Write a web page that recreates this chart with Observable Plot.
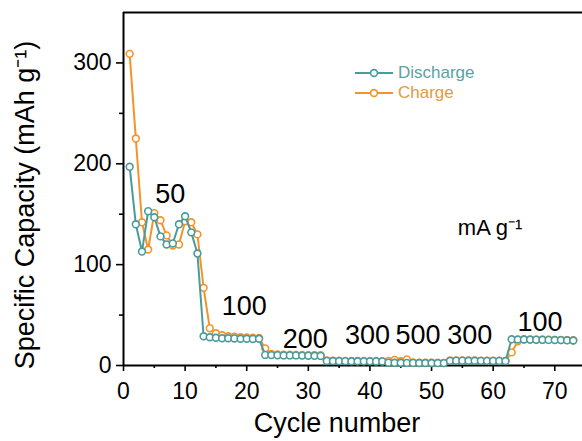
<!DOCTYPE html>
<html>
<head>
<meta charset="utf-8">
<script src="https://cdn.jsdelivr.net/npm/d3@7"></script>
<script src="https://cdn.jsdelivr.net/npm/@observablehq/plot@0.6"></script>
<style>
  html, body { margin: 0; padding: 0; background: #fff; }
  #wrap { position: relative; width: 582px; height: 441px; font-family: "Liberation Sans", Arial, sans-serif; }
  #legend { position: absolute; left: 354px; top: 63px; font-size: 17px; line-height: 20px; }
  #legend .row { display: flex; align-items: center; height: 20px; }
  #legend svg { margin-right: 4px; }
</style>
</head>
<body>
<div id="wrap"></div>
<script>
const cycles = d3.range(1, 74);
const discharge = [197,140,113,153,147,128,120,121,140,148,132,111,
  29,28,27.5,27,27,26.8,26.5,26.5,26.3,26.5,
  10.5,10.3,10.2,10,10,10,9.8,9.7,9.6,9.5,
  4.5,4.4,4.3,4.3,4.2,4.2,4.1,4.1,4,4,
  2.8,2.7,2.7,2.6,2.6,2.5,2.5,2.5,2.4,2.4,
  4.6,4.8,4.8,4.7,4.7,4.6,4.6,4.5,4.5,4.4,
  26,25.8,25.8,25.7,25.6,25.5,25.4,25.3,25.2,25,24.8];
const charge = [309,225,142,115,151,144,129,119,120,143,142,130,
  77,37,32,30,29,28.5,28,27.8,27.5,27.3,
  17,11.5,11,10.8,10.7,10.5,10.4,10.3,10.2,10.1,
  5,4.8,4.7,4.6,4.6,4.5,4.5,4.4,4.4,4.3,
  4.5,5.5,4.2,6,3,2.8,2.8,2.7,2.7,2.6,
  5,5,5,4.9,4.9,4.8,4.8,4.7,4.7,4.6,
  13,24,26,25.8,25.7,25.6,25.5,25.4,25.3,25.2,25];
const rateLabels = ["50","100","200","300","500","300","100"];
const rateX = [7.6,19.6,29.5,39.6,47.8,56.2,67.6];
const rateY = [170,59,26,30,30,30,43];
const xTicks = [0,10,20,30,40,50,60,70];
const xMinor = [5,15,25,35,45,55,65];
const yTicks = [0,100,200,300];
const yMinor = [50,150,250];
const seriesNames = ["Discharge","Charge"];
const colors = ["#4a9c9a","#f5932a"];
const legendText = ["#5aa2a2","#e49a45"];

const dData = cycles.map((c,i) => ({c, v: discharge[i]}));
const cData = cycles.map((c,i) => ({c, v: charge[i]}));
const rates = rateLabels.map((t,i) => ({t, x: rateX[i], y: rateY[i]}));

const font = "Liberation Sans, Arial, sans-serif";
const chart = Plot.plot({
  width: 582, height: 441,
  marginLeft: 123, marginTop: 12, marginBottom: 76, marginRight: 0,
  style: {fontFamily: font, color: "#000", background: "#fff", overflow: "visible"},
  x: {domain: [0, 74.5]},
  y: {domain: [0, 350]},
  marks: [
    Plot.axisX({ticks: xTicks, tickSize: 6, tickPadding: 11, fontSize: 23, label: null, strokeWidth: 1.6}),
    Plot.axisX({ticks: xMinor, tickSize: 3, tickFormat: () => "", label: null, strokeWidth: 1.6}),
    Plot.axisY({ticks: yTicks, tickSize: 7, tickPadding: 5, fontSize: 23, label: null, strokeWidth: 1.6}),
    Plot.axisY({ticks: yMinor, tickSize: 4, tickFormat: () => "", label: null, strokeWidth: 1.6}),
    Plot.ruleY([0], {strokeWidth: 2}),
    Plot.ruleY([350], {strokeWidth: 2}),
    Plot.ruleX([0], {strokeWidth: 2}),
    Plot.line(cData, {x: "c", y: "v", stroke: colors[1], strokeWidth: 2}),
    Plot.dot(cData, {x: "c", y: "v", r: 3.4, stroke: colors[1], fill: "#fff", strokeWidth: 1.6}),
    Plot.line(dData, {x: "c", y: "v", stroke: colors[0], strokeWidth: 2}),
    Plot.dot(dData, {x: "c", y: "v", r: 3.4, stroke: colors[0], fill: "#fff", strokeWidth: 1.6}),
    Plot.text(rates, {x: "x", y: "y", text: "t", fontSize: 27, fill: "#000"}),
    Plot.text(["mA g⁻¹"], {x: 59.5, y: 136, fontSize: 22, fill: "#000"}),
    Plot.text(["Cycle number"], {frameAnchor: "bottom", textAnchor: "middle", lineAnchor: "middle", dx: -16, dy: 58, fontSize: 27, fill: "#000"}),
    Plot.text(["Specific Capacity (mAh g⁻¹)"], {frameAnchor: "left", textAnchor: "middle", lineAnchor: "middle", dx: -98, dy: 16, rotate: -90, fontSize: 27, fill: "#000"})
  ]
});
const wrap = document.getElementById("wrap");
wrap.appendChild(chart);

const legend = document.createElement("div");
legend.id = "legend";
seriesNames.forEach((name, i) => {
  const row = document.createElement("div");
  row.className = "row";
  row.innerHTML = `<svg width="40" height="12"><line x1="1" y1="6" x2="39" y2="6" stroke="${colors[i]}" stroke-width="2"/><circle cx="20" cy="6" r="3.4" fill="#fff" stroke="${colors[i]}" stroke-width="1.6"/></svg><span style="color:${legendText[i]}">${name}</span>`;
  legend.appendChild(row);
});
wrap.appendChild(legend);
</script>
</body>
</html>
